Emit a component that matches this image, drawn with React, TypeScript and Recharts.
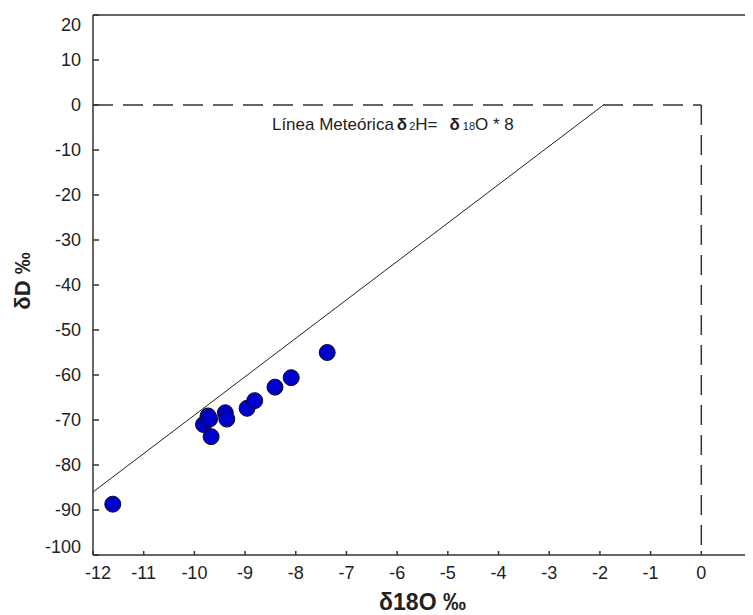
import { ReferenceDot, ReferenceLine, Scatter, ScatterChart, XAxis, YAxis } from "recharts";

// muestras: δ18O (x) y δD (y)
const d18O = [-11.61, -9.82, -9.73, -9.7, -9.67, -9.39, -9.36, -8.96, -8.81, -8.41, -8.09, -7.38];
const dD = [-88.7, -71.0, -69.1, -69.8, -73.7, -68.4, -69.8, -67.4, -65.7, -62.7, -60.6, -55.0];

// línea meteórica (extremos sobre el gráfico)
const meteoricX = [-12, -1.93];
const meteoricY = [-86, 0];

const xTicks = [-12, -11, -10, -9, -8, -7, -6, -5, -4, -3, -2, -1, 0, 1];
const yTicks = [-100, -90, -80, -70, -60, -50, -40, -30, -20, -10, 0, 10, 20];

const labelPos = { x: -8.47, y: -5.6 };

const samples = d18O.map((x, i) => ({ x, y: dD[i] }));
const meteoric = meteoricX.map((x, i) => ({ x, y: meteoricY[i] }));

const font = "'Liberation Sans', Arial, sans-serif";
const axisColor = "#333";

function YTick(props: any) {
  const { x, y, payload } = props;
  // las etiquetas extremas se corren hacia dentro, como en el original
  const shift = payload.value === 20 ? 10 : payload.value === -100 ? -8 : 0;
  return (
    <g>
      <line x1={x + 12} x2={x + 18} y1={y} y2={y} stroke={axisColor} strokeWidth={1.5} />
      <text x={x} y={y + shift} dy="0.36em" textAnchor="end" fontSize={18} fontFamily={font} fill="#222">
        {payload.value}
      </text>
    </g>
  );
}

function XTick(props: any) {
  const { x, y, payload } = props;
  const shift = payload.value === -12 ? 5 : payload.value === 1 ? -3 : 0;
  return (
    <g>
      <line x1={x} x2={x} y1={y - 11} y2={y - 15} stroke={axisColor} strokeWidth={1.5} />
      <text x={x + shift} y={y} dy="0.71em" textAnchor="middle" fontSize={18} fontFamily={font} fill="#222">
        {payload.value}
      </text>
    </g>
  );
}

function Dot(props: any) {
  return <circle cx={props.cx} cy={props.cy} r={8} fill="#0000cc" stroke="#111" strokeWidth={1} />;
}

function MeteoricLabel(props: any) {
  const { x, y } = props.viewBox;
  return (
    <text x={x} y={y} fontSize={17} fontFamily={font} fill="#222">
      <tspan>Línea Meteórica</tspan>
      <tspan dx={3} fontWeight="bold">δ</tspan>
      <tspan dx={2} fontSize={11}>2</tspan>
      <tspan>H=</tspan>
      <tspan dx={12} fontWeight="bold">δ</tspan>
      <tspan dx={3} fontSize={11}>18</tspan>
      <tspan>O * 8</tspan>
    </text>
  );
}

function YTitle(props: any) {
  const vb = props.viewBox;
  const cx = 14;
  const cy = vb.y + vb.height / 2 - 4;
  return (
    <text
      x={cx}
      y={cy}
      transform={`rotate(-90 ${cx} ${cy})`}
      textAnchor="middle"
      dominantBaseline="central"
      fontSize={22}
      fontWeight="bold"
      fontFamily={font}
      fill="#222"
    >
      δD ‰
    </text>
  );
}

export default function App() {
  return (
    <div style={{ width: 745, height: 607 }}>
      <ScatterChart width={745} height={607} margin={{ top: 7, right: 1, bottom: 0, left: 0 }}>
        <XAxis
          type="number"
          dataKey="x"
          domain={[-12, 1]}
          ticks={xTicks}
          interval={0}
          height={60}
          tickSize={0}
          tickMargin={11}
          tick={<XTick />}
          axisLine={{ stroke: axisColor, strokeWidth: 1.5 }}
          label={{
            value: "δ18O ‰",
            position: "insideBottom",
            offset: 5,
            style: { fontSize: 23, fontWeight: "bold", fontFamily: font, fill: "#222" }
          }}
        />
        <YAxis
          type="number"
          dataKey="y"
          domain={[-100, 20]}
          ticks={yTicks}
          interval={0}
          width={85}
          tickSize={0}
          tickMargin={12}
          tick={<YTick />}
          axisLine={{ stroke: axisColor, strokeWidth: 1.5 }}
          label={{ content: <YTitle /> }}
        />
        <ReferenceLine y={20} stroke={axisColor} strokeWidth={1.5} />
        <ReferenceLine x={1} stroke={axisColor} strokeWidth={1.5} />
        <ReferenceLine
          segment={[{ x: -12, y: 0 }, { x: 0, y: 0 }]}
          stroke={axisColor}
          strokeWidth={1.5}
          strokeDasharray="20 10"
        />
        <ReferenceLine
          segment={[{ x: 0, y: 0 }, { x: 0, y: -100 }]}
          stroke={axisColor}
          strokeWidth={1.5}
          strokeDasharray="20 10"
        />
        <ReferenceLine
          segment={[meteoric[0], meteoric[1]]}
          stroke="#222"
          strokeWidth={1}
        />
        <ReferenceDot
          x={labelPos.x}
          y={labelPos.y}
          r={0}
          fill="none"
          stroke="none"
          label={{ content: <MeteoricLabel /> }}
        />
        <Scatter data={samples} shape={<Dot />} isAnimationActive={false} />
      </ScatterChart>
    </div>
  );
}
